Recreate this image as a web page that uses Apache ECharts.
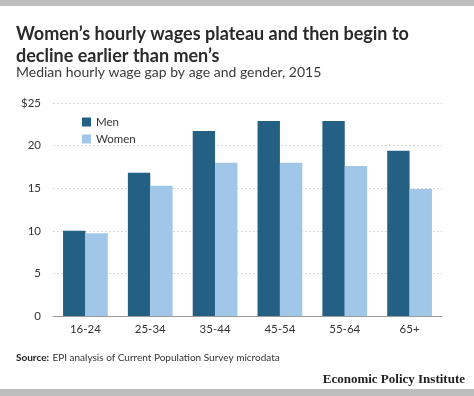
<!DOCTYPE html>
<html><head><meta charset="utf-8">
<script src="https://cdn.jsdelivr.net/npm/echarts@6/dist/echarts.min.js"></script>
<style>html,body{margin:0;padding:0;background:#fff}#c{width:474px;height:396px}</style>
</head><body><div id="c"></div>
<script>
const categories = ['16-24','25-34','35-44','45-54','55-64','65+'];
const men = [10.0, 16.8, 21.7, 22.9, 22.9, 19.4];
const women = [9.7, 15.3, 18.0, 18.0, 17.6, 14.9];
const yTicks = [0, 5, 10, 15, 20, 25];

const chart = echarts.init(document.getElementById('c'), null, {renderer:'canvas'});
chart.setOption({
  animation: false,
  backgroundColor: '#fff',
  graphic: [
    {type:'rect', left:0, top:0, shape:{width:474, height:6}, style:{fill:'#bdbdbd'}},
    {type:'rect', left:0, top:389, shape:{width:474, height:7}, style:{fill:'#bdbdbd'}},
    {type:'text', left:16, top:23, style:{text:'Women\u2019s hourly wages plateau and then begin to\ndecline earlier than men\u2019s', font:'bold 18px Lato, "Open Sans", sans-serif', fill:'#2a2a2a', lineHeight:22}},
    {type:'text', left:16, top:65, style:{text:'Median hourly wage gap by age and gender, 2015', font:'14px Lato, "Open Sans", sans-serif', fill:'#3a3a3a'}},
    {type:'text', left:16, top:352, style:{rich:{b:{font:'bold 10px Lato, sans-serif', fill:'#222'}, n:{font:'10px Lato, sans-serif', fill:'#333'}}, text:'{b|Source:} {n|EPI analysis of Current Population Survey microdata}'}},
    {type:'text', right:9, top:373, style:{text:'Economic Policy Institute', font:'bold 13px "Liberation Serif", "DejaVu Serif", serif', fill:'#222'}}
  ],
  legend: {
    orient:'vertical', left:77, top:111, itemWidth:9, itemHeight:9, itemGap:5,
    icon:'rect', textStyle:{fontSize:11.5, color:'#333', fontFamily:'Lato, sans-serif'},
    data:['Men','Women']
  },
  grid: {left:53, right:32, top:103, bottom:80, containLabel:false},
  xAxis: {
    type:'category', data:categories,
    axisLine:{lineStyle:{color:'#999'}}, axisTick:{show:false},
    axisLabel:{color:'#333', fontSize:11.5, fontFamily:'Lato, sans-serif', margin:7}
  },
  yAxis: {
    type:'value', min:0, max:25, interval:5,
    axisLine:{show:false}, axisTick:{show:false},
    axisLabel:{color:'#333', fontSize:11.5, fontFamily:'Lato, sans-serif', margin:12,
      formatter: v => yTicks.indexOf(v) === yTicks.length-1 ? '$' + v : String(v)},
    splitLine:{lineStyle:{color:'#cccccc', type:[1.5,2.5], width:1.2}}
  },
  series: [
    {name:'Men', type:'bar', data:men, itemStyle:{color:'#245f84'}, barGap:'0%', barCategoryGap:'31%'},
    {name:'Women', type:'bar', data:women, itemStyle:{color:'#a0c7e7'}}
  ]
});
</script></body></html>
